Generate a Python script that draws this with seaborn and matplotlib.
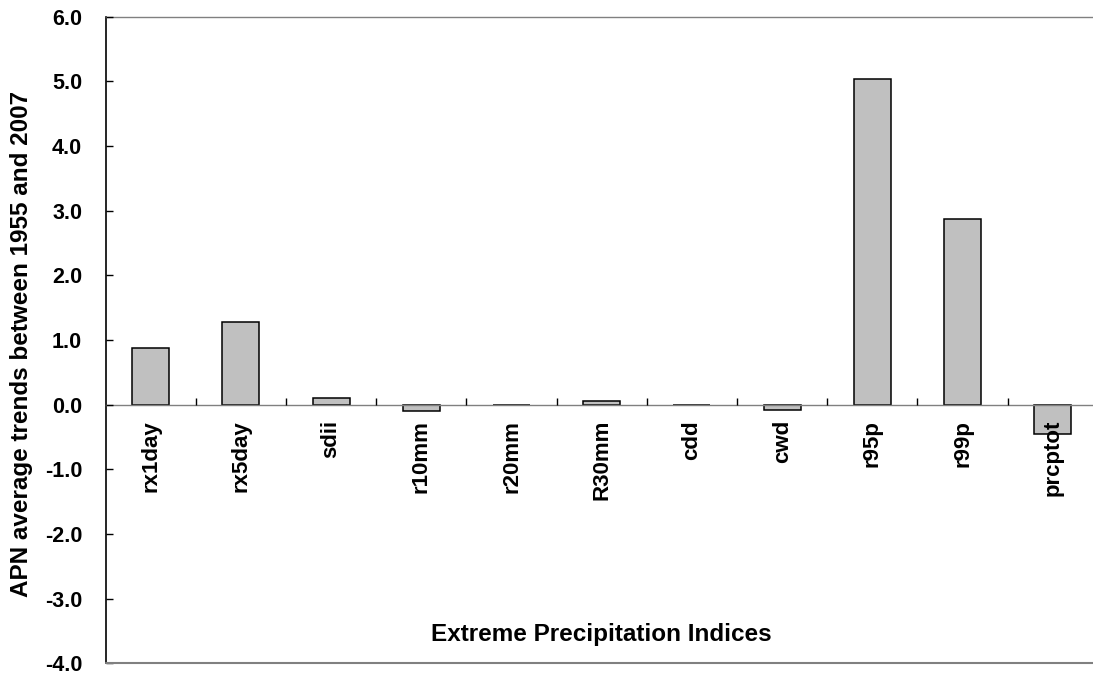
import matplotlib
matplotlib.use("Agg")
import matplotlib.pyplot as plt
import seaborn as sns
import pandas as pd
import numpy as np

categories = ["rx1day", "rx5day", "sdii", "r10mm", "r20mm", "R30mm",
              "cdd", "cwd", "r95p", "r99p", "prcptot"]
values = [0.87, 1.27, 0.10, -0.10, -0.01, 0.05, -0.01, -0.08, 5.04, 2.87, -0.46]
yticks = [-4.0, -3.0, -2.0, -1.0, 0.0, 1.0, 2.0, 3.0, 4.0, 5.0, 6.0]

sns.set_style("white")
plt.rcParams["font.family"] = ["Liberation Sans", "DejaVu Sans"]
plt.rcParams["font.weight"] = "bold"
plt.rcParams["text.color"] = "black"
plt.rcParams["axes.labelcolor"] = "black"
plt.rcParams["xtick.color"] = "black"
plt.rcParams["ytick.color"] = "black"

df = pd.DataFrame({"idx": categories, "val": values})

fig = plt.figure(figsize=(10.93, 6.77), dpi=100)
ax = fig.add_axes([0.0967, 0.0202, 0.9077, 0.9553])

sns.barplot(data=df, x="idx", y="val", order=categories, color="#C0C0C0",
            saturation=1, width=0.41, edgecolor="black", linewidth=1.1, ax=ax)
ax.set_axisbelow(False)

ax.set_xlim(-0.5, len(categories) - 0.5)
ax.set_ylim(-4.0, 6.0)
ax.set_yticks(yticks)
ax.set_yticklabels([f"{v:.1f}" for v in yticks], fontsize=15.5, fontweight="bold",
                   color="black")

# x axis at zero
ax.spines["bottom"].set_position(("data", 0))
ax.spines["bottom"].set_color("#808080")
ax.spines["bottom"].set_linewidth(1.0)
ax.spines["top"].set_color("#808080")
ax.spines["top"].set_linewidth(1.0)
ax.spines["right"].set_visible(False)
ax.spines["left"].set_color("black")
ax.spines["left"].set_linewidth(1.2)
ax.axhline(-4.0, color="#808080", linewidth=1.5, clip_on=False, zorder=5)

ax.set_xticks(range(len(categories)))
ax.set_xticklabels(categories, rotation=90, fontsize=16, fontweight="bold",
                   color="black")
ax.set_xticks(np.arange(0.5, len(categories) - 1, 1.0), minor=True)
ax.tick_params(axis="x", which="major", length=0, pad=11)
ax.tick_params(axis="x", which="minor", direction="in", length=5, width=1,
               color="black", bottom=True)
ax.tick_params(axis="y", which="major", direction="in", length=5, width=1,
               color="black", pad=17, left=True)

ax.set_xlabel("Extreme Precipitation Indices", fontsize=17.5, fontweight="bold",
              color="black")
ax.xaxis.set_label_coords(0.5, 0.062)
ax.set_ylabel("APN average trends between 1955 and 2007", fontsize=17.5,
              fontweight="bold", color="black")
ax.yaxis.set_label_coords(-0.073, 0.494)

fig.savefig("out.png", dpi=100)
